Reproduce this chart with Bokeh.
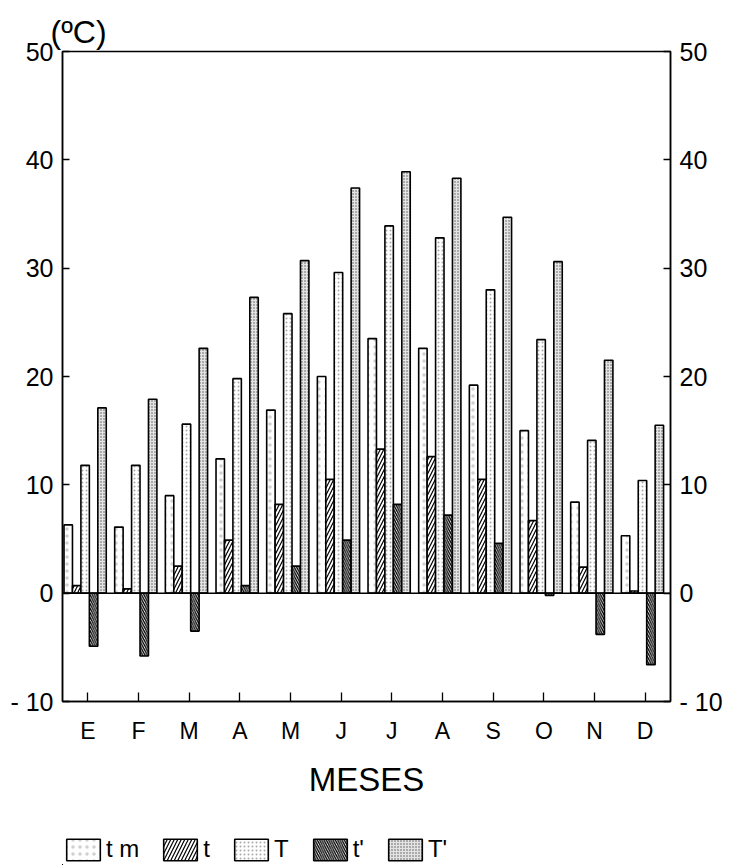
from bokeh.plotting import figure
from bokeh.layouts import column
from bokeh.models import (Range1d, LinearAxis, FixedTicker, Span, Title, Legend,
                          LegendItem, ColumnDataSource)
from bokeh.transform import dodge
from bokeh.embed import file_html
from bokeh.resources import INLINE

# ---------------- data ----------------
months = ["E", "F", "M", "A", "M", "J", "J", "A", "S", "O", "N", "D"]
month_idx = list(range(12))
tm = [6.3, 6.1, 9.0, 12.4, 16.9, 20.0, 23.5, 22.6, 19.2, 15.0, 8.4, 5.3]
t = [0.7, 0.4, 2.5, 4.9, 8.2, 10.5, 13.3, 12.6, 10.5, 6.7, 2.4, 0.2]
T = [11.8, 11.8, 15.6, 19.8, 25.8, 29.6, 33.9, 32.8, 28.0, 23.4, 14.1, 10.4]
t_prime = [-4.9, -5.8, -3.5, 0.7, 2.5, 4.9, 8.2, 7.2, 4.6, -0.2, -3.8, -6.6]
T_prime = [17.1, 17.9, 22.6, 27.3, 30.7, 37.4, 38.9, 38.3, 34.7, 30.6, 21.5, 15.5]
y_ticks = [-10, 0, 10, 20, 30, 40, 50]
y_tick_labels = ["- 10", "0", "10", "20", "30", "40", "50"]
series_labels = ["t m", "t", "T", "t'", "T'"]
series_cols = ["tm", "t", "T", "tp", "Tp"]

FONT = "Liberation Sans"

src = ColumnDataSource(dict(x=month_idx, tm=tm, t=t, T=T, tp=t_prime, Tp=T_prime))

p = figure(frame_width=608, frame_height=650, output_backend="svg", toolbar_location=None,
           x_range=Range1d(-0.5, 11.5), y_range=Range1d(-10, 50),
           min_border_left=62, min_border_right=60, min_border_top=51,
           min_border_bottom=129)
p.xgrid.visible = False
p.ygrid.visible = False
p.outline_line_color = "black"
p.outline_line_width = 1.5
p.background_fill_color = "white"
p.border_fill_color = "white"

# bar styles
styles = [
    dict(fill_color="white", hatch_pattern=".", hatch_scale=7, hatch_weight=0.5, hatch_color="#d0d0d0"),
    dict(fill_color="white", hatch_pattern="/", hatch_scale=7, hatch_weight=1.2, hatch_color="black"),
    dict(fill_color="white", hatch_pattern=".", hatch_scale=4, hatch_weight=0.5, hatch_color="#aaaaaa"),
    dict(fill_color="white", hatch_pattern="\\", hatch_scale=4.5, hatch_weight=1.3, hatch_color="black"),
    dict(fill_color="#e4e4e4", hatch_pattern=".", hatch_scale=3, hatch_weight=0.5, hatch_color="#555555"),
]

slot = 1.0 / 6.0
renderers = []
for k, (col, st) in enumerate(zip(series_cols, styles)):
    off = -0.47 + (k + 0.5) * slot
    r = p.vbar(x=dodge("x", off, range=p.x_range), top=col, bottom=0, width=slot,
               source=src, line_color="black", line_width=1.6, **st)
    renderers.append(r)

p.add_layout(Span(location=0, dimension="width", line_color="black", line_width=1.5))


def style_y(ax):
    ax.ticker = FixedTicker(ticks=y_ticks)
    ax.major_label_overrides = {v: s for v, s in zip(y_ticks, y_tick_labels)}
    ax.major_tick_in = 7
    ax.major_tick_out = 0
    ax.minor_tick_line_color = None
    ax.axis_line_width = 1.5
    ax.major_tick_line_width = 1.3
    ax.major_label_standoff = 9
    ax.major_label_text_font = FONT
    ax.major_label_text_font_size = "25px"
    ax.major_label_text_color = "black"


style_y(p.yaxis[0])
ra = LinearAxis()
style_y(ra)
p.add_layout(ra, "right")

# bottom axis
xa = p.xaxis[0]
xa.ticker = FixedTicker(ticks=month_idx)
xa.major_label_overrides = {i: m for i, m in zip(month_idx, months)}
xa.major_tick_in = 9
xa.major_tick_out = 0
xa.minor_tick_line_color = None
xa.axis_line_width = 1.5
xa.major_tick_line_width = 1.3
xa.major_label_standoff = 16
xa.major_label_text_font = FONT
xa.major_label_text_font_size = "23px"
xa.major_label_text_color = "black"
xa.axis_label = "MESES"
xa.axis_label_text_font = FONT
xa.axis_label_text_font_size = "33px"
xa.axis_label_text_font_style = "normal"
xa.axis_label_standoff = 14
xa.axis_label_text_color = "black"

title = Title(text="(ºC)", align="left", offset=-12, standoff=3,
              text_font=FONT, text_font_size="32px", text_font_style="normal",
              text_color="black")
p.add_layout(title, "above")

# ---------------- legend strip (same series, same styles) ----------------
p2 = figure(width=730, height=35, output_backend="svg", toolbar_location=None,
            x_range=Range1d(100, 101), y_range=Range1d(100, 101),
            x_axis_type=None, y_axis_type=None,
            min_border_left=0, min_border_right=0, min_border_top=0, min_border_bottom=0)
p2.xgrid.visible = False
p2.ygrid.visible = False
p2.outline_line_color = None
p2.background_fill_color = "white"
p2.border_fill_color = "white"

leg_renderers = []
for k, (col, st) in enumerate(zip(series_cols, styles)):
    off = -0.47 + (k + 0.5) * slot
    r2 = p2.vbar(x=dodge("x", off, range=p2.x_range), top=col, bottom=0, width=slot,
                 source=src, line_color="black", line_width=1.6, **st)
    leg_renderers.append(r2)

items = [LegendItem(label=lbl, renderers=[r]) for lbl, r in zip(series_labels, leg_renderers)]
legend = Legend(items=items, orientation="horizontal", location=(0, 2),
                glyph_width=42, glyph_height=27, label_standoff=2, spacing=20,
                padding=0, margin=0, border_line_color=None, background_fill_alpha=0,
                label_text_font=FONT, label_text_font_size="24px", label_width=0,
                label_height=27, label_text_color="black")
p2.add_layout(legend, "center")

layout = column(p, p2, spacing=0)
open("out.html", "w").write(file_html(layout, INLINE))
